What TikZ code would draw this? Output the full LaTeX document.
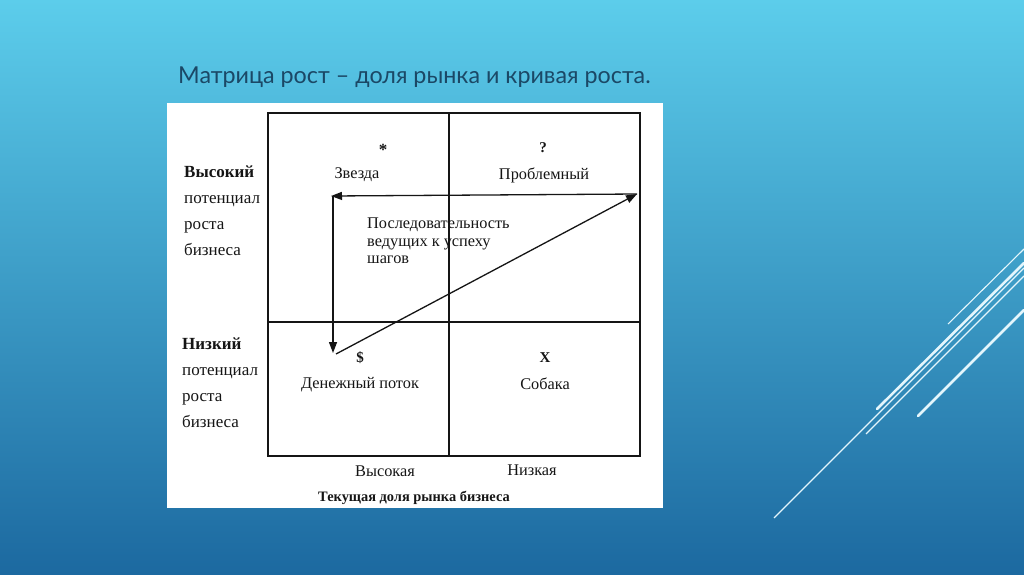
\documentclass[tikz,border=0pt]{standalone}
\usepackage{fontspec}
\setmainfont{Liberation Serif}
\newfontfamily\titlefont{Lato}
\usetikzlibrary{arrows.meta,positioning}
\definecolor{bgtop}{HTML}{5CCDEB}
\definecolor{bgbottom}{HTML}{1C69A0}
\definecolor{titleblue}{HTML}{1B4866}
\definecolor{streak}{HTML}{E4F6FC}
\definecolor{inkblack}{HTML}{151515}

\begin{document}
\begin{tikzpicture}[x=1pt,y=-1pt,
  lbl/.style={font=\fontsize{16.3}{18}\selectfont,text=inkblack,inner sep=0pt},
  sym/.style={font=\fontsize{15}{17}\selectfont\bfseries,text=inkblack,inner sep=0pt},
  side/.style={font=\fontsize{17}{26}\selectfont,text=inkblack,align=left,inner sep=0pt,anchor=north west},
  grid/.style={draw=inkblack,line width=1.3pt},
  flow/.style={draw=inkblack,line width=1.3pt,-{Triangle[length=11pt,width=8pt]}},
  thinline/.style={streak,line width=1.1pt},
  thickline/.style={streak,line width=2.6pt,line cap=round}
]
\useasboundingbox (0,0) rectangle (1024,574);

%--- Background and decoration ---
\fill[top color=bgtop,bottom color=bgbottom] (0,0) rectangle (1024,574);
\draw[thinline]  (948,324) -- (1024,249);
\draw[thickline] (877,409) -- (1024,263);
\draw[thinline]  (774,518) -- (1024,268);
\draw[thinline]  (866,434) -- (1024,276);
\draw[thickline] (918,416) -- (1024,310);

% ---- TITLE ----
\node[font=\titlefont\fontsize{23.3}{26}\selectfont,text=titleblue,anchor=base west,inner sep=0pt]
  (title) at (178,83) {Матрица рост – доля рынка и кривая роста.};

% ---- WHITE PANEL + MATRIX ----
\fill[white] (167,103) rectangle (663,508);
\draw[grid] (268,113) rectangle (640,456);
\draw[grid] (449,113) -- (449,456);
\draw[grid] (268,322) -- (640,322);

% ---- CELL LABELS ----
\node[sym,font=\fontsize{17}{17}\selectfont\bfseries] (starsym) at (383,150) {*};
\node[lbl] (star)     at (357,175) {Звезда};
\node[sym] (qsym)     at (543,148) {?};
\node[lbl] (problem)  at (544,175) {Проблемный};
\node[sym] (cashsym)  at (360,358) {\$};
\node[lbl] (cash)     at (360,385) {Денежный поток};
\node[sym] (dogsym)   at (545,358) {X};
\node[lbl] (dog)      at (545,384) {Собака};
\node[lbl,align=left,anchor=north west,font=\fontsize{16.3}{17.5}\selectfont]
  (steps) at (367,218) {Последовательность\\ведущих к успеху\\шагов};

% ---- AXIS LABELS ----
\node[side] (high) at (184,166) {\textbf{Высокий}\\потенциал\\роста\\бизнеса};
\node[side] (low)  at (182,338) {\textbf{Низкий}\\потенциал\\роста\\бизнеса};
\node[lbl] (sharehigh) at (385,471) {Высокая};
\node[lbl] (sharelow)  at (532,470) {Низкая};
\node[lbl,font=\fontsize{14.4}{16}\selectfont\bfseries] (share) at (414,498) {Текущая доля рынка бизнеса};

% ---- SEQUENCE ARROWS ----
\coordinate (cq) at (637,194);
\coordinate (cs) at (331,196);
\coordinate (cc) at (333,353);
\draw[flow] (cq) -- (cs);
\draw[flow] ([xshift=2pt]cs) -- (cc);
\draw[flow] ([xshift=3pt,yshift=-1pt]cc) -- (cq);

\end{tikzpicture}
\end{document}
